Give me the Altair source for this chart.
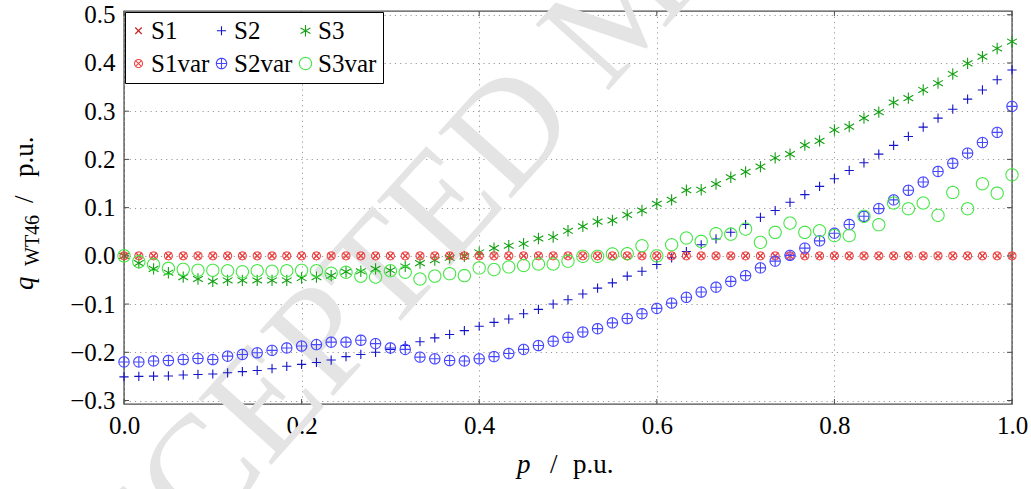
import math
import altair as alt
import pandas as pd

# active power set-points p (p.u.)
p = [0.0, 0.0167, 0.0333, 0.05, 0.0667, 0.0833, 0.1, 0.1167, 0.1333, 0.15,
     0.1667, 0.1833, 0.2, 0.2167, 0.2333, 0.25, 0.2667, 0.2833, 0.3, 0.3167,
     0.3333, 0.35, 0.3667, 0.3833, 0.4, 0.4167, 0.4333, 0.45, 0.4667, 0.4833,
     0.5, 0.5167, 0.5333, 0.55, 0.5667, 0.5833, 0.6, 0.6167, 0.6333, 0.65,
     0.6667, 0.6833, 0.7, 0.7167, 0.7333, 0.75, 0.7667, 0.7833, 0.8, 0.8167,
     0.8333, 0.85, 0.8667, 0.8833, 0.9, 0.9167, 0.9333, 0.95, 0.9667, 0.9833,
     1.0]

# reactive power of WT46 (p.u.) per strategy
s1 = [0.0, 0.0, 0.0, 0.0, 0.0, 0.0, 0.0, 0.0, 0.0, 0.0,
      0.0, 0.0, 0.0, 0.0, 0.0, 0.0, 0.0, 0.0, 0.0, 0.0,
      0.0, 0.0, 0.0, 0.0, 0.0, 0.0, 0.0, 0.0, 0.0, 0.0,
      0.0, 0.0, 0.0, 0.0, 0.0, 0.0, 0.0, 0.0, 0.0, 0.0,
      0.0, 0.0, 0.0, 0.0, 0.0, 0.0, 0.0, 0.0, 0.0, 0.0,
      0.0, 0.0, 0.0, 0.0, 0.0, 0.0, 0.0, 0.0, 0.0, 0.0,
      0.0]
s2 = [-0.251, -0.250, -0.2495, -0.249, -0.247, -0.246, -0.245, -0.2425, -0.240, -0.2377,
      -0.234, -0.229, -0.225, -0.221, -0.216, -0.209, -0.2045, -0.200, -0.194, -0.186,
      -0.178, -0.170, -0.163, -0.155, -0.146, -0.138, -0.131, -0.120, -0.111, -0.100,
      -0.091, -0.079, -0.067, -0.056, -0.042, -0.032, -0.018, -0.004, 0.009, 0.023,
      0.035, 0.049, 0.065, 0.080, 0.094, 0.111, 0.127, 0.144, 0.160, 0.177,
      0.193, 0.211, 0.229, 0.2475, 0.267, 0.2855, 0.304, 0.325, 0.344, 0.365,
      0.3855]
s3 = [0.0, -0.015, -0.027, -0.035, -0.044, -0.048, -0.053, -0.051, -0.051, -0.051,
      -0.051, -0.051, -0.046, -0.044, -0.041, -0.033, -0.032, -0.027, -0.030, -0.022,
      -0.015, -0.009, -0.004, -0.001, 0.007, 0.016, 0.021, 0.025, 0.036, 0.039,
      0.052, 0.061, 0.071, 0.0735, 0.085, 0.094, 0.108, 0.116, 0.136, 0.137,
      0.149, 0.163, 0.174, 0.185, 0.203, 0.211, 0.2295, 0.2385, 0.261, 0.268,
      0.2855, 0.298, 0.318, 0.327, 0.344, 0.358, 0.377, 0.399, 0.413, 0.430,
      0.444]
s1var = [0.0, 0.0, 0.0, 0.0, 0.0, 0.0, 0.0, 0.0, 0.0, 0.0,
         0.0, 0.0, 0.0, 0.0, 0.0, 0.0, 0.0, 0.0, 0.0, 0.0,
         0.0, 0.0, 0.0, 0.0, 0.0, 0.0, 0.0, 0.0, 0.0, 0.0,
         0.0, 0.0, 0.0, 0.0, 0.0, 0.0, 0.0, 0.0, 0.0, 0.0,
         0.0, 0.0, 0.0, 0.0, 0.0, 0.0, 0.0, 0.0, 0.0, 0.0,
         0.0, 0.0, 0.0, 0.0, 0.0, 0.0, 0.0, 0.0, 0.0, 0.0,
         0.0]
s2var = [-0.220, -0.220, -0.218, -0.217, -0.215, -0.213, -0.215, -0.208, -0.2045, -0.201,
         -0.196, -0.191, -0.187, -0.184, -0.179, -0.179, -0.175, -0.182, -0.191, -0.194,
         -0.210, -0.2135, -0.217, -0.218, -0.2135, -0.209, -0.2025, -0.194, -0.186, -0.177,
         -0.169, -0.158, -0.151, -0.139, -0.130, -0.120, -0.109, -0.098, -0.086, -0.075,
         -0.065, -0.053, -0.041, -0.025, -0.011, 0.001, 0.016, 0.031, 0.047, 0.065,
         0.082, 0.098, 0.116, 0.136, 0.153, 0.175, 0.192, 0.213, 0.235, 0.256,
         0.310]
s3var = [0.0, -0.012, -0.018, -0.026, -0.028, -0.030, -0.030, -0.031, -0.033, -0.031,
         -0.032, -0.031, -0.030, -0.031, -0.036, -0.034, -0.042, -0.044, -0.031, -0.034,
         -0.048, -0.042, -0.037, -0.041, -0.025, -0.0285, -0.023, -0.020, -0.017, -0.017,
         -0.011, -0.001, -0.001, 0.004, 0.0045, 0.021, 0.000, 0.023, 0.037, 0.030,
         0.046, 0.045, 0.0555, 0.028, 0.0487, 0.068, 0.0487, 0.052, 0.042, 0.042,
         0.082, 0.0646, 0.1095, 0.0977, 0.1095, 0.084, 0.1315, 0.0977, 0.1495, 0.130,
         0.168]

names = ["S1", "S2", "S3", "S1var", "S2var", "S3var"]
values = [s1, s2, s3, s1var, s2var, s3var]
colors = ["#c81e1e", "#1414c8", "#12a012", "#f04646", "#4646ff", "#46e646"]

x_ticks = [0.0, 0.2, 0.4, 0.6, 0.8, 1.0]
y_ticks = [-0.3, -0.2, -0.1, 0.0, 0.1, 0.2, 0.3, 0.4, 0.5]

FONT = "Liberation Serif"
FS = 25
W, H = 888, 393
LEFT, TOP = 124, 11
X_DOM = [0.0, 1.0]
Y_DOM = [-0.3072, 0.5077]


def ring(n=36):
    pts = [(math.cos(2 * math.pi * k / n), math.sin(2 * math.pi * k / n)) for k in range(n)]
    return "M" + "L".join(f"{x:.3f},{y:.3f}" for x, y in pts) + "Z"


times = "M-1,-1L1,1M-1,1L1,-1"
plus = "M-1,0L1,0M0,-1L0,1"
star = "M0,-1L0,1M-0.866,-0.5L0.866,0.5M-0.866,0.5L0.866,-0.5"
shape_of = {
    "S1": times,
    "S2": plus,
    "S3": star,
    "S1var": ring() + "M-0.62,-0.62L0.62,0.62M-0.62,0.62L0.62,-0.62",
    "S2var": ring() + plus,
    "S3var": ring(),
}
size_of = {"S1": 42, "S2": 90, "S3": 100, "S1var": 150, "S2var": 150, "S3var": 150}
color_of = dict(zip(names, colors))

# legend entries fill column by column: S1/S1var, S2/S2var, S3/S3var
legend_order = ["S1", "S1var", "S2", "S2var", "S3", "S3var"]

rows = []
for name, vals in zip(names, values):
    for x, y in zip(p, vals):
        rows.append({"p": x, "q": y, "series": name})
df = pd.DataFrame(rows)

xs = alt.Scale(domain=X_DOM, nice=False, zero=False)
ys = alt.Scale(domain=Y_DOM, nice=False, zero=False)

minus_expr = "datum.value < 0 ? '\u2212' + format(-datum.value, '.1f') : format(datum.value, '.1f')"
axis_style = dict(
    title=None, labelExpr=minus_expr, grid=True, ticks=False, domain=False,
    labelFont=FONT, labelFontSize=FS, labelColor="black", labelFlush=False,
    labelOverlap=False, gridColor="#9a9a9a", gridDash=[1.2, 4], gridWidth=1, gridOpacity=1,
)
x_axis = alt.Axis(values=x_ticks, labelPadding=9, **axis_style)
y_axis = alt.Axis(values=y_ticks, labelPadding=9, **axis_style)

legend = alt.Legend(title=None, orient="top-left", columns=3,
                    offset=1, padding=6, rowPadding=7, columnPadding=4,
                    symbolOffset=-5, labelOffset=0, symbolSize=81, symbolStrokeWidth=1.1,
                    strokeColor="black", fillColor="white",
                    labelFont=FONT, labelFontSize=FS, labelColor="black")

points = alt.Chart(df).mark_point(filled=False, strokeWidth=1.1, opacity=1).encode(
    x=alt.X("p:Q", scale=xs, axis=x_axis),
    y=alt.Y("q:Q", scale=ys, axis=y_axis),
    color=alt.Color("series:N",
                    scale=alt.Scale(domain=legend_order, range=[color_of[n] for n in legend_order]),
                    legend=legend),
    shape=alt.Shape("series:N",
                    scale=alt.Scale(domain=legend_order, range=[shape_of[n] for n in legend_order]),
                    legend=legend),
    size=alt.Size("series:N",
                  scale=alt.Scale(domain=legend_order, range=[size_of[n] for n in legend_order]),
                  legend=None),
)

# inward tick marks on all four sides of the frame
ytick_df = pd.DataFrame({"q": y_ticks})
xtick_df = pd.DataFrame({"p": x_ticks})
tick_color = "#4d4d4d"
yt_left = alt.Chart(ytick_df).mark_rule(color=tick_color, strokeWidth=1).encode(
    y=alt.Y("q:Q", scale=ys, axis=y_axis), x=alt.value(0), x2=alt.value(5))
yt_right = alt.Chart(ytick_df).mark_rule(color=tick_color, strokeWidth=1).encode(
    y=alt.Y("q:Q", scale=ys, axis=y_axis), x=alt.value(W - 5), x2=alt.value(W))
xt_bottom = alt.Chart(xtick_df).mark_rule(color=tick_color, strokeWidth=1).encode(
    x=alt.X("p:Q", scale=xs, axis=x_axis), y=alt.value(H - 5), y2=alt.value(H))
xt_top = alt.Chart(xtick_df).mark_rule(color=tick_color, strokeWidth=1).encode(
    x=alt.X("p:Q", scale=xs, axis=x_axis), y=alt.value(0), y2=alt.value(5))

# watermark
watermark = alt.Chart(pd.DataFrame({"t": ["ACCEPTED MANUSCRIPT"]})).mark_text(
    font=FONT, fontSize=150, color="#e4e4e4", angle=312, align="center", baseline="middle"
).encode(text="t:N", x=alt.value(500), y=alt.value(-5))


def label(txt, x, y, size=FS, style="normal", angle=0):
    # x, y given in page pixels; shifted into plot-area coordinates
    return alt.Chart(pd.DataFrame({"t": [txt]})).mark_text(
        font=FONT, fontSize=size, fontStyle=style, color="black", angle=angle,
        align="left", baseline="alphabetic"
    ).encode(text="t:N", x=alt.value(x - LEFT), y=alt.value(y - TOP))


# axis titles: p / p.u. and q_WT46 / p.u.
x_title = [
    label("p", 517, 473, size=27, style="italic"),
    label("/", 550, 473, size=27),
    label("p.u.", 573, 473, size=27),
]
y_title = [
    label("q", 33, 290, size=27, style="italic", angle=270),
    label("WT46", 39, 266, size=20, angle=270),
    label("/", 33, 203, size=27, angle=270),
    label("p.u.", 33, 177, size=27, angle=270),
]

chart = alt.layer(
    watermark, points, yt_left, yt_right, xt_bottom, xt_top, *x_title, *y_title
).properties(
    width=W, height=H,
    background="white",
    autosize=alt.AutoSizeParams(type="none"),
    padding={"left": LEFT, "top": TOP, "right": 19, "bottom": 85},
).configure(
    font=FONT
).configure_view(
    stroke="#4d4d4d", strokeWidth=1.4
)

chart.save("out.html", embed_options={"renderer": "svg", "actions": False})
